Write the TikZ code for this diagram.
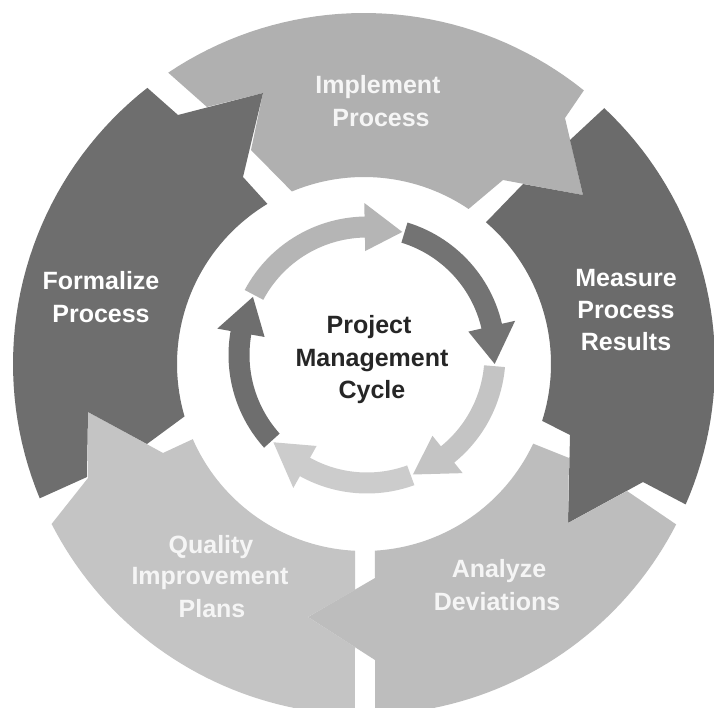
\documentclass[tikz,border=0pt]{standalone}
\usepackage{fontspec}
\setmainfont{Liberation Sans}
\definecolor{cimpl}{gray}{0.69}
\definecolor{cmeas}{gray}{0.42}
\definecolor{canal}{gray}{0.74}
\definecolor{cqual}{gray}{0.77}
\definecolor{cform}{gray}{0.43}
\definecolor{atop}{gray}{0.71}
\definecolor{aright}{gray}{0.45}
\definecolor{alowr}{gray}{0.77}
\definecolor{abot}{gray}{0.80}
\definecolor{aleft}{gray}{0.43}
\newcommand{\ringarc}[3]{plot[domain=0:1,samples=40] ({364+#1*cos((#2)+((#3)-(#2))*\x)},{364+#1*sin((#2)+((#3)-(#2))*\x)})}
\newcommand{\ringto}[3]{-- plot[domain=0:1,samples=40] ({364+#1*cos((#2)+((#3)-(#2))*\x)},{364+#1*sin((#2)+((#3)-(#2))*\x)})}
\newcommand{\cyclearrow}[4]{%
  \fill[#1] plot[domain=0:1,samples=30] ({367+138.5*cos((#2)+((#3)-(#2))*\x)},{355+138.5*sin((#2)+((#3)-(#2))*\x)})
    -- ({367+152*cos(#3)},{355+152*sin(#3)})
    -- ({367+128*cos(#4)},{355+128*sin(#4)})
    -- ({367+104*cos(#3)},{355+104*sin(#3)})
    -- plot[domain=0:1,samples=30] ({367+117.5*cos((#3)+((#2)-(#3))*\x)},{355+117.5*sin((#3)+((#2)-(#3))*\x)})
    -- cycle;}
\tikzset{
  lbl/.style={font=\bfseries\fontsize{25}{30}\selectfont, text=white, anchor=base, inner sep=0pt},
  lbllight/.style={lbl, text=white!96!black},
  ctr/.style={lbl, text=black!85}
}
\begin{document}
\begin{tikzpicture}[x=1pt,y=-1pt]
\useasboundingbox (0,0) rectangle (714,708);
\fill[white] (0,0) rectangle (714,708);
% outer segments
\fill[cimpl] \ringarc{351}{236.1}{308.8} -- (565,118) -- (583,195) -- (503,180) \ringto{187}{304}{247.3} -- (251,150) -- (263,93) -- (207,107) -- cycle;
\fill[cmeas] \ringarc{351}{-46.8}{23.6} -- (643,482) -- (568,523) -- (570,435) \ringto{187}{17.7}{-49.3} -- (523,184) -- (583,195) -- (570,140) -- cycle;
\fill[canal] \ringarc{351}{27.2}{88.2} -- (375,660) -- (308,617) -- (375,578) \ringto{187}{86.7}{25.2} -- (569,458) -- (568,523) -- (627,491) -- cycle;
\fill[cqual] \ringarc{351}{91.5}{152.9} -- (88,478) -- (88,412) -- (163,453) \ringto{187}{156.3}{92.7} -- (355,590) -- (308,617) -- (355,647) -- cycle;
\fill[cform] \ringarc{351}{157.5}{231.9} -- (178,115) -- (263,93) -- (243,177) \ringto{187}{238.9}{163.7} -- (147,444) -- (88,412) -- (87,477) -- cycle;
% inner cycle arrows
\cyclearrow{atop}{208}{269}{286}
\cyclearrow{aright}{-73}{-13}{4}
\cyclearrow{alowr}{5}{51}{69}
\cyclearrow{abot}{70}{119}{137}
\cyclearrow{aleft}{138}{190}{207}
% labels
\node[lbllight] (impl1) at (378,94) {Implement};
\node[lbllight] (impl2) at (381,127) {Process};
\node[lbl] (meas1) at (626,287) {Measure};
\node[lbl] (meas2) at (626,318) {Process};
\node[lbl] (meas3) at (626,350) {Results};
\node[lbllight] (anal1) at (499,577) {Analyze};
\node[lbllight] (anal2) at (497,610) {Deviations};
\node[lbllight] (qual1) at (211,553) {Quality};
\node[lbllight] (qual2) at (210,584) {Improvement};
\node[lbllight] (qual3) at (212,617) {Plans};
\node[lbl] (form1) at (101,290) {Formalize};
\node[lbl] (form2) at (101,322) {Process};
\node[ctr] (ctr1) at (369,334) {Project};
\node[ctr] (ctr2) at (372,366) {Management};
\node[ctr] (ctr3) at (372,398) {Cycle};
\end{tikzpicture}
\end{document}
